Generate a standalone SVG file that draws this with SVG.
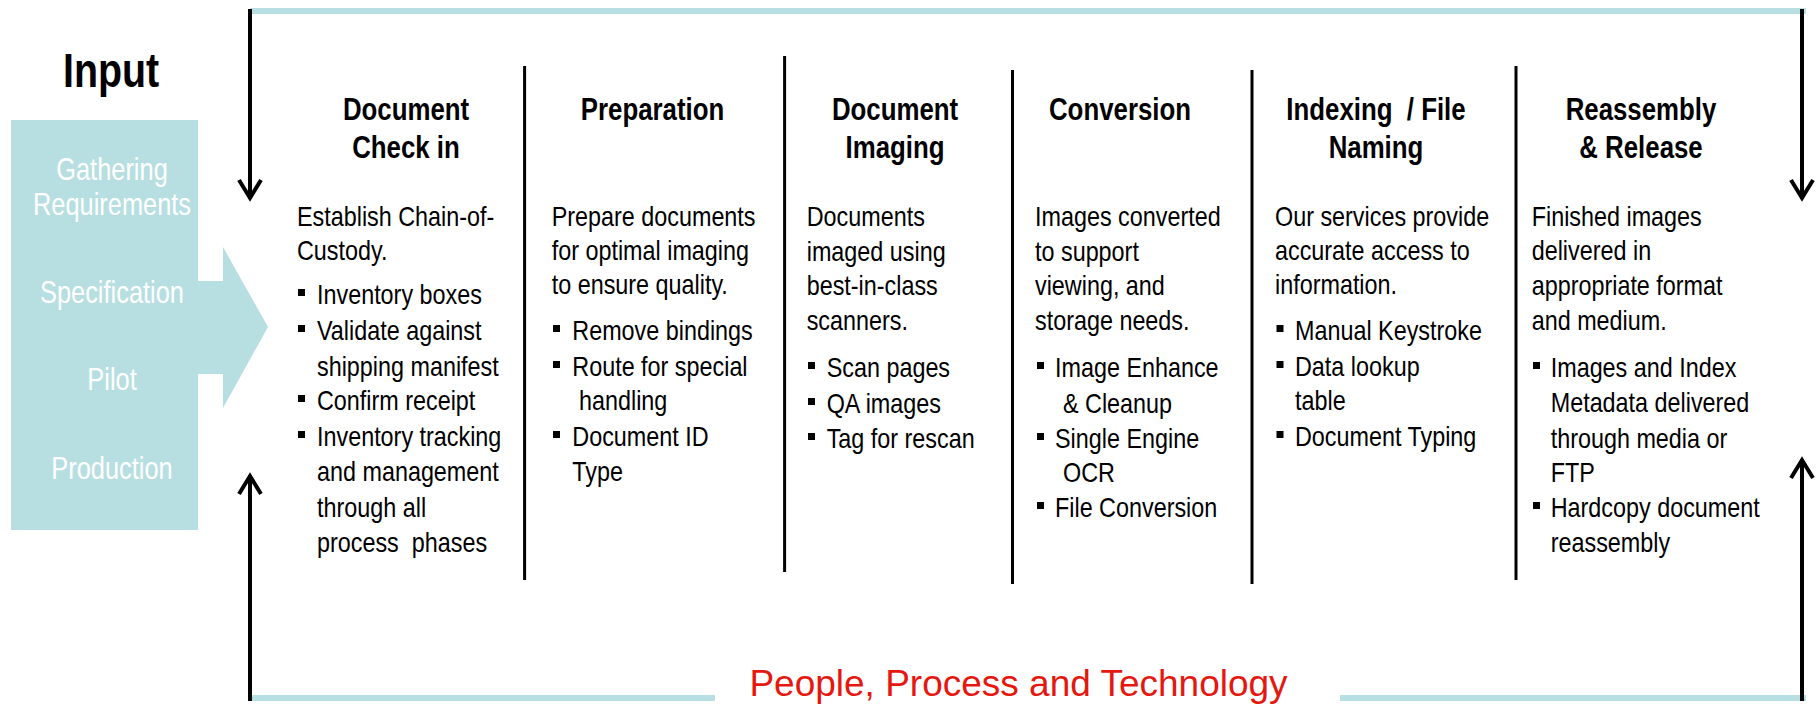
<svg xmlns="http://www.w3.org/2000/svg" width="1820" height="704" viewBox="0 0 1820 704">
<defs>
<style>
.t{font-family:'Liberation Sans',Arial,sans-serif;font-size:28.5px;fill:#000;white-space:pre;transform-box:fill-box;transform-origin:0 50%;transform:scaleX(0.82)}
.h{font-family:'Liberation Sans',Arial,sans-serif;font-size:31.5px;font-weight:bold;fill:#000;text-anchor:middle;white-space:pre;transform-box:fill-box;transform-origin:50% 50%;transform:scaleX(0.82)}
.p{font-family:'Liberation Sans',Arial,sans-serif;font-size:31px;fill:#fff;text-anchor:middle;transform-box:fill-box;transform-origin:50% 50%;transform:scaleX(0.82)}
.in{font-family:'Liberation Sans',Arial,sans-serif;font-size:48px;font-weight:bold;fill:#000;text-anchor:middle;transform-box:fill-box;transform-origin:50% 50%;transform:scaleX(0.82)}
.ppt{font-family:'Liberation Sans',Arial,sans-serif;font-size:37px;fill:#E5170F;text-anchor:middle}
.dv{stroke:#000;stroke-width:3}
.ar{stroke:#000;stroke-width:4;fill:none}
.tl{stroke:#B7DFE2;stroke-width:6;fill:none}
.sq{fill:#000}
</style>
<marker id="ah" markerUnits="userSpaceOnUse" viewBox="-24 -14 28 28" markerWidth="28" markerHeight="28" refX="0" refY="0" orient="auto" overflow="visible">
<path d="M-19,-11 L-1,0 L-19,11" fill="none" stroke="#000" stroke-width="4"/>
</marker>
</defs>
<rect width="1820" height="704" fill="#fff"/>

<g id="input">
<text class="in" x="111" y="87">Input</text>
<polygon points="11,120 198,120 198,281 223,281 223,247 268,327 223,408 223,374 198,374 198,530 11,530" fill="#B7DFE2"/>
<text class="p" x="112" y="180">Gathering</text>
<text class="p" x="112" y="215">Requirements</text>
<text class="p" x="112" y="303">Specification</text>
<text class="p" x="112" y="390">Pilot</text>
<text class="p" x="112" y="479">Production</text>
</g>

<g id="connectors">
<line class="tl" x1="250" y1="11" x2="1806" y2="11"/>
<line class="tl" x1="250" y1="698" x2="715" y2="698"/>
<line class="tl" x1="1340" y1="698" x2="1806" y2="698"/>
<line class="ar" x1="250" y1="9" x2="250" y2="199" marker-end="url(#ah)"/>
<line class="ar" x1="1802" y1="9" x2="1802" y2="199" marker-end="url(#ah)"/>
<line class="ar" x1="250" y1="701" x2="250" y2="475" marker-end="url(#ah)"/>
<line class="ar" x1="1802" y1="701" x2="1802" y2="459" marker-end="url(#ah)"/>
</g>

<g id="dividers">
<line class="dv" x1="524.6" y1="66" x2="524.6" y2="580"/>
<line class="dv" x1="784.6" y1="56" x2="784.6" y2="572"/>
<line class="dv" x1="1012.5" y1="70" x2="1012.5" y2="584"/>
<line class="dv" x1="1252" y1="70" x2="1252" y2="584"/>
<line class="dv" x1="1516" y1="66" x2="1516" y2="580"/>
</g>

<g id="checkin">
<text class="h" x="406" y="120">Document</text>
<text class="h" x="406" y="158">Check in</text>
<text class="t" x="297" y="226">Establish Chain-of-</text>
<text class="t" x="297" y="260">Custody.</text>
<rect class="sq" x="298" y="289" width="7" height="7"/>
<text class="t" x="317" y="304">Inventory boxes</text>
<rect class="sq" x="298" y="325" width="7" height="7"/>
<text class="t" x="317" y="340">Validate against</text>
<text class="t" x="317" y="376">shipping manifest</text>
<rect class="sq" x="298" y="395" width="7" height="7"/>
<text class="t" x="317" y="410">Confirm receipt</text>
<rect class="sq" x="298" y="431" width="7" height="7"/>
<text class="t" x="317" y="446">Inventory tracking</text>
<text class="t" x="317" y="481">and management</text>
<text class="t" x="317" y="517">through all</text>
<text class="t" x="317" y="552">process  phases</text>
</g>

<g id="preparation">
<text class="h" x="652.5" y="120">Preparation</text>
<text class="t" x="551.7" y="226">Prepare documents</text>
<text class="t" x="551.7" y="260">for optimal imaging</text>
<text class="t" x="551.7" y="294">to ensure quality.</text>
<rect class="sq" x="553" y="325" width="7" height="7"/>
<text class="t" x="572.3" y="340">Remove bindings</text>
<rect class="sq" x="553" y="361" width="7" height="7"/>
<text class="t" x="572.3" y="376">Route for special</text>
<text class="t" x="579" y="410">handling</text>
<rect class="sq" x="553" y="431" width="7" height="7"/>
<text class="t" x="572.3" y="446">Document ID</text>
<text class="t" x="572.3" y="481">Type</text>
</g>

<g id="imaging">
<text class="h" x="895" y="120">Document</text>
<text class="h" x="895" y="158">Imaging</text>
<text class="t" x="806.7" y="226">Documents</text>
<text class="t" x="806.7" y="261">imaged using</text>
<text class="t" x="806.7" y="295.5">best-in-class</text>
<text class="t" x="806.7" y="330.4">scanners.</text>
<rect class="sq" x="808" y="362" width="7" height="7"/>
<text class="t" x="826.7" y="377">Scan pages</text>
<rect class="sq" x="808" y="398" width="7" height="7"/>
<text class="t" x="826.7" y="413">QA images</text>
<rect class="sq" x="808" y="433" width="7" height="7"/>
<text class="t" x="826.7" y="448">Tag for rescan</text>
</g>

<g id="conversion">
<text class="h" x="1120" y="120">Conversion</text>
<text class="t" x="1035" y="226">Images converted</text>
<text class="t" x="1035" y="261">to support</text>
<text class="t" x="1035" y="295.5">viewing, and</text>
<text class="t" x="1035" y="330.4">storage needs.</text>
<rect class="sq" x="1037" y="362" width="7" height="7"/>
<text class="t" x="1055" y="377">Image Enhance</text>
<text class="t" x="1063" y="413">&amp; Cleanup</text>
<rect class="sq" x="1037" y="433" width="7" height="7"/>
<text class="t" x="1055" y="448">Single Engine</text>
<text class="t" x="1063" y="482.4">OCR</text>
<rect class="sq" x="1037" y="502" width="7" height="7"/>
<text class="t" x="1055" y="517.2">File Conversion</text>
</g>

<g id="indexing">
<text class="h" x="1376" y="120">Indexing  / File</text>
<text class="h" x="1376" y="158">Naming</text>
<text class="t" x="1275" y="226">Our services provide</text>
<text class="t" x="1275" y="260">accurate access to</text>
<text class="t" x="1275" y="294">information.</text>
<rect class="sq" x="1276.5" y="325" width="7" height="7"/>
<text class="t" x="1295" y="340">Manual Keystroke</text>
<rect class="sq" x="1276.5" y="361" width="7" height="7"/>
<text class="t" x="1295" y="376">Data lookup</text>
<text class="t" x="1295" y="410">table</text>
<rect class="sq" x="1276.5" y="431" width="7" height="7"/>
<text class="t" x="1295" y="446">Document Typing</text>
</g>

<g id="release">
<text class="h" x="1641" y="120">Reassembly</text>
<text class="h" x="1641" y="158">&amp; Release</text>
<text class="t" x="1531.7" y="226">Finished images</text>
<text class="t" x="1531.7" y="260">delivered in</text>
<text class="t" x="1531.7" y="295.5">appropriate format</text>
<text class="t" x="1531.7" y="330.4">and medium.</text>
<rect class="sq" x="1533" y="362" width="7" height="7"/>
<text class="t" x="1550.7" y="377">Images and Index</text>
<text class="t" x="1550.7" y="412">Metadata delivered</text>
<text class="t" x="1550.7" y="448">through media or</text>
<text class="t" x="1550.7" y="482.4">FTP</text>
<rect class="sq" x="1533" y="502" width="7" height="7"/>
<text class="t" x="1550.7" y="517.2">Hardcopy document</text>
<text class="t" x="1550.7" y="552">reassembly</text>
</g>

<text id="ppt" class="ppt" x="1018.5" y="696">People, Process and Technology</text>
</svg>
